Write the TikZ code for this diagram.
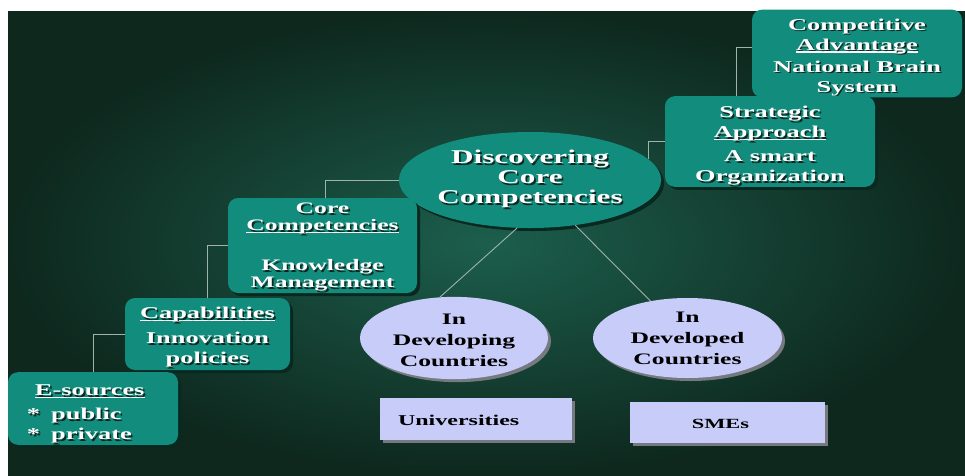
\documentclass[tikz,border=0pt]{standalone}
\usepackage{fontspec}
\setmainfont{Liberation Serif}[FakeStretch=1.6]
\usetikzlibrary{shapes, positioning, shadows}

\definecolor{bgin}{RGB}{28,94,76}
\definecolor{bgout}{RGB}{14,40,30}
\definecolor{boxteal}{RGB}{18,140,124}
\definecolor{boxshade}{RGB}{8,40,32}
\definecolor{lav}{RGB}{200,204,248}
\definecolor{lavshade}{RGB}{118,122,128}
\definecolor{linkgray}{RGB}{160,178,170}
\definecolor{txtshade}{RGB}{16,38,32}

\newcommand{\sh}[1]{\makebox[0pt][l]{\kern1.6pt\raisebox{-1.6pt}{\color{txtshade}#1}}#1}
\newcommand{\ul}[1]{\sbox0{#1}\makebox[0pt][l]{\rule[-2.6pt]{\wd0}{1.3pt}}\usebox0}
\newcommand{\tp}[1]{\rule{0pt}{#1}}

\begin{document}
\begin{tikzpicture}[x=1pt, y=-1pt]
\tikzstyle{tealbox}=[rectangle, rounded corners=10pt, fill=boxteal, text=white, align=center, inner sep=0pt, font=\bfseries\fontsize{16.5}{20}\selectfont, drop shadow={shadow xshift=3pt, shadow yshift=-3pt, fill=boxshade, opacity=1}]
\tikzstyle{bigoval}=[ellipse, fill=boxteal, text=white, align=center, inner sep=0pt, font=\bfseries\fontsize{19.5}{20}\selectfont, drop shadow={shadow xshift=3pt, shadow yshift=-3pt, fill=boxshade, opacity=1}]
\tikzstyle{lavoval}=[ellipse, fill=lav, text=black, align=center, inner sep=0pt, minimum width=188pt, minimum height=80pt, font=\bfseries\fontsize{16}{21}\selectfont, drop shadow={shadow xshift=3pt, shadow yshift=-3pt, fill=lavshade, opacity=1}]
\tikzstyle{lavbox}=[rectangle, fill=lav, text=black, inner sep=0pt, drop shadow={shadow xshift=3pt, shadow yshift=-3pt, fill=lavshade, opacity=1}]
\tikzstyle{link}=[draw=linkgray, line width=0.9pt]

\useasboundingbox (0,0) rectangle (965,475);
\shade[inner color=bgin, outer color=bgout] (8,11) rectangle (965,475);

\node[tealbox, minimum width=210pt, minimum height=81pt]    (comp) at (857,53.5)  {\tp{20.5pt}\sh{Competitive}\\ \ul{\sh{Advantage}}\\[2pt] \sh{National Brain}\\ \sh{System}};
\node[tealbox, minimum width=210pt, minimum height=83pt]    (strat) at (770,141.5) {\tp{21.5pt}\sh{Strategic}\\ \ul{\sh{Approach}}\\[4pt] \sh{A smart}\\ \sh{Organization}};
\node[bigoval, minimum width=240pt, minimum height=96pt]    (disc) at (530,180)   {\sh{Discovering}\\ \sh{Core}\\ \sh{Competencies}};
\node[tealbox, minimum width=189pt, minimum height=95pt, font=\bfseries\fontsize{16}{17}\selectfont] (core) at (322.5,245.5) {\tp{15.5pt}\sh{Core}\\ \ul{\sh{Competencies}}\\[23pt] \sh{Knowledge}\\ \sh{Management}};
\node[tealbox, minimum width=165pt, minimum height=72pt]    (cap) at (207.5,334)  {\tp{19.5pt}\ul{\sh{Capabilities}}\\[5pt] \sh{Innovation}\\ \sh{policies}};
\node[tealbox, minimum height=67pt, text width=132pt, inner xsep=19pt, align=left] (esrc) at (93,408.5) {\tp{23.5pt}\hspace*{8pt}\ul{\sh{E-sources}}\\[4pt] \sh{*\ \ public}\\ \sh{*\ \ private}};

\node[lavoval]                  (devg) at (454,338)   {\tp{16pt}In\\ Developing\\ Countries};
\node[lavoval, minimum width=189pt] (devd) at (687.5,338) {In\\ Developed\\ Countries};

\node[lavbox, minimum height=42pt, text width=156pt, inner xsep=18pt, align=left, font=\bfseries\fontsize{15}{18}\selectfont] (univ) at (476,419) {\tp{13pt}Universities};
\node[lavbox, minimum width=195pt, minimum height=41pt, font=\bfseries\fontsize{14}{17}\selectfont] (sme) at (727.5,422.5) {\tp{13pt}\hspace*{-14pt}SMEs};

\draw[link] ([yshift=6pt]comp.west) -| ([xshift=-34pt]strat.north);
\draw[link] (strat.west) -| (disc.10);
\draw[link] (disc.west) -| ([xshift=3pt]core.north);
\draw[link] (core.west) -| (cap.north);
\draw[link] (cap.west) -| (esrc.north);
\draw[link] (disc.-105) -- (devg.109);
\draw[link] (disc.-45) -- (devd.135);

\end{tikzpicture}
\end{document}
